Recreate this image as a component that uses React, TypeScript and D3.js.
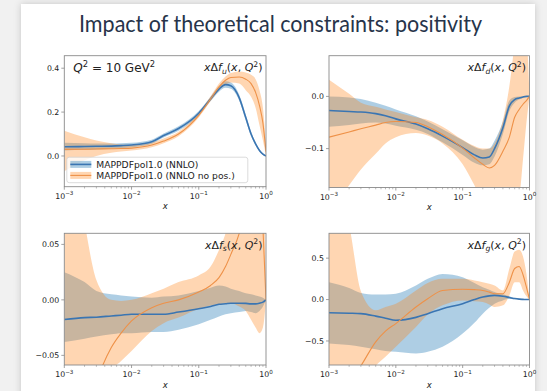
import React from 'react';
import * as d3 from 'd3';

const W = 547;
const H = 391;

// Shared momentum-fraction grid
const xGrid = [1e-3, 2e-3, 3e-3, 5e-3, 7e-3, 1e-2, 2e-2, 3e-2, 5e-2, 0.1, 0.15, 0.2, 0.25, 0.3, 0.4, 0.5, 0.6, 0.7, 0.8, 0.9, 1.0];

// x Δf_u
const uPol = [0.042, 0.043, 0.044, 0.045, 0.047, 0.05, 0.065, 0.093, 0.125, 0.195, 0.26, 0.305, 0.325, 0.32, 0.265, 0.175, 0.1, 0.055, 0.025, 0.008, 0.0];
const uPolLo = [0.025, 0.028, 0.03, 0.033, 0.035, 0.04, 0.056, 0.084, 0.115, 0.185, 0.25, 0.293, 0.311, 0.306, 0.252, 0.162, 0.09, 0.048, 0.02, 0.005, 0.0];
const uPolHi = [0.06, 0.058, 0.057, 0.057, 0.058, 0.06, 0.074, 0.102, 0.135, 0.205, 0.27, 0.318, 0.34, 0.335, 0.279, 0.188, 0.11, 0.062, 0.03, 0.011, 0.0];
const uNoPos = [0.03, 0.031, 0.032, 0.033, 0.034, 0.036, 0.05, 0.068, 0.1, 0.185, 0.26, 0.315, 0.345, 0.358, 0.36, 0.35, 0.33, 0.29, 0.23, 0.15, 0.02];
const uNoPosLo = [-0.07, -0.02, 0.0, 0.015, 0.02, 0.025, 0.04, 0.058, 0.09, 0.175, 0.25, 0.3, 0.325, 0.335, 0.33, 0.3, 0.27, 0.22, 0.14, 0.07, 0.0];
const uNoPosHi = [0.115, 0.085, 0.07, 0.058, 0.052, 0.05, 0.062, 0.08, 0.11, 0.198, 0.272, 0.33, 0.362, 0.378, 0.385, 0.38, 0.37, 0.35, 0.3, 0.22, 0.05];

// x Δf_d
const dPol = [-0.027, -0.029, -0.03, -0.033, -0.037, -0.043, -0.053, -0.062, -0.076, -0.098, -0.112, -0.118, -0.116, -0.1, -0.06, -0.018, -0.006, -0.003, -0.001, 0.0, 0.0];
const dPolLo = [-0.058, -0.055, -0.052, -0.05, -0.052, -0.056, -0.064, -0.072, -0.088, -0.112, -0.127, -0.132, -0.13, -0.115, -0.072, -0.028, -0.012, -0.006, -0.003, -0.001, 0.0];
const dPolHi = [0.0, -0.002, -0.005, -0.012, -0.018, -0.025, -0.038, -0.048, -0.063, -0.084, -0.097, -0.102, -0.1, -0.085, -0.048, -0.008, -0.001, 0.0, 0.0, 0.0, 0.0];
const dNoPos = [-0.078, -0.068, -0.062, -0.055, -0.05, -0.048, -0.05, -0.058, -0.073, -0.099, -0.118, -0.13, -0.137, -0.132, -0.105, -0.078, -0.04, -0.025, -0.015, -0.008, 0.0];
const dNoPosLo = [-0.22, -0.17, -0.14, -0.11, -0.09, -0.078, -0.07, -0.075, -0.09, -0.13, -0.17, -0.2, -0.21, -0.21, -0.21, -0.21, -0.2, -0.19, -0.12, -0.05, 0.0];
const dNoPosHi = [0.032, 0.005, -0.012, -0.02, -0.025, -0.03, -0.04, -0.045, -0.058, -0.083, -0.095, -0.1, -0.1, -0.09, -0.045, 0.02, 0.1, 0.15, 0.15, 0.12, 0.0];

// x Δf_s
const sPol = [-0.0177, -0.016, -0.0156, -0.0145, -0.0138, -0.013, -0.013, -0.013, -0.011, -0.008, -0.006, -0.004, -0.0035, -0.003, -0.003, -0.0032, -0.0036, -0.0036, -0.003, -0.002, 0.0];
const sPolLo = [-0.038, -0.035, -0.033, -0.031, -0.03, -0.03, -0.029, -0.029, -0.027, -0.022, -0.018, -0.015, -0.013, -0.012, -0.011, -0.01, -0.011, -0.012, -0.01, -0.006, 0.0];
const sPolHi = [0.025, 0.016, 0.008, 0.005, 0.004, 0.003, 0.002, 0.003, 0.004, 0.008, 0.011, 0.013, 0.012, 0.01, 0.008, 0.006, 0.005, 0.004, 0.003, 0.002, 0.0];
const sNoPos = [-0.25, -0.12, -0.075, -0.043, -0.03, -0.019, -0.007, -0.003, 0.0, 0.007, 0.013, 0.02, 0.03, 0.041, 0.06, 0.085, 0.11, 0.13, 0.13, 0.065, 0.0];
const sNoPosLo = [-0.35, -0.2, -0.12, -0.065, -0.055, -0.046, -0.028, -0.021, -0.016, -0.008, -0.005, -0.004, -0.003, -0.003, -0.006, -0.01, -0.018, -0.025, -0.03, -0.025, 0.0];
const sNoPosHi = [0.2, 0.07, 0.018, 0.0, -0.001, 0.0, 0.006, 0.01, 0.016, 0.022, 0.03, 0.045, 0.06, 0.08, 0.11, 0.13, 0.15, 0.16, 0.16, 0.14, 0.0];

// x Δf_g
const gPol = [-0.16, -0.165, -0.17, -0.2, -0.225, -0.25, -0.215, -0.17, -0.11, -0.05, 0.0, 0.03, 0.045, 0.05, 0.04, 0.025, 0.012, 0.005, 0.002, 0.0, 0.0];
const gPolLo = [-0.53, -0.55, -0.57, -0.6, -0.62, -0.63, -0.65, -0.63, -0.57, -0.41, -0.28, -0.17, -0.1, -0.05, -0.01, 0.01, 0.003, 0.0, 0.0, 0.0, 0.0];
const gPolHi = [0.21, 0.14, 0.08, 0.06, 0.06, 0.07, 0.17, 0.25, 0.31, 0.27, 0.2, 0.15, 0.12, 0.09, 0.065, 0.04, 0.02, 0.01, 0.004, 0.001, 0.0];
const gNoPos = [-1.5, -1.0, -0.8, -0.51, -0.38, -0.29, -0.09, 0.01, 0.11, 0.125, 0.12, 0.11, 0.09, 0.07, 0.07, 0.21, 0.375, 0.4, 0.3, 0.15, 0.0];
const gNoPosLo = [-2.0, -1.5, -1.1, -0.8, -0.69, -0.57, -0.33, -0.18, -0.07, -0.01, -0.02, -0.03, -0.06, -0.09, -0.07, 0.05, 0.21, 0.21, 0.11, 0.04, 0.0];
const gNoPosHi = [1.5, 0.9, 0.1, -0.13, -0.09, -0.05, 0.11, 0.2, 0.25, 0.25, 0.23, 0.21, 0.19, 0.17, 0.11, 0.375, 0.58, 0.6, 0.52, 0.31, 0.0];

const seriesNames = ['MAPPDFpol1.0 (NNLO)', 'MAPPDFpol1.0 (NNLO no pos.)'];
const titleText = 'Impact of theoretical constraints: positivity';
const scaleText = ['Q', '2', ' = 10 GeV', '2'];

const xTickValues = [1e-3, 1e-2, 1e-1, 1];
const xTickExps = ['\u22123', '\u22122', '\u22121', '0'];
const uTicks = [0, 0.2, 0.4];
const dTicks = [-0.1, 0.0];
const sTicks = [-0.05, 0.0, 0.05];
const gTicks = [-0.5, 0.0, 0.5];

const BLUE_BAND = '#1f77b4';
const ORANGE_BAND = '#ff7f0e';
const BLUE_LINE = '#3a75b2';
const ORANGE_LINE = '#ee9148';
const FRAME = '#8a8a8a';
const TEXT = '#222';

type Series = { c: number[]; lo: number[]; hi: number[] };
type PanelSpec = {
  id: string;
  sub: string;
  left: number;
  right: number;
  top: number;
  bottom: number;
  yDomain: [number, number];
  yTicks: number[];
  yFmt: string;
  pol: Series;
  noPos: Series;
  legend?: boolean;
  scaleLabel?: boolean;
};

const panels: PanelSpec[] = [
  { id: 'u', sub: 'u', left: 64.3, right: 266, top: 55.7, bottom: 186.7, yDomain: [-0.14, 0.457], yTicks: uTicks, yFmt: '.1f',
    pol: { c: uPol, lo: uPolLo, hi: uPolHi }, noPos: { c: uNoPos, lo: uNoPosLo, hi: uNoPosHi }, legend: true, scaleLabel: true },
  { id: 'd', sub: 'd', left: 329, right: 529.5, top: 55.7, bottom: 187.5, yDomain: [-0.1745, 0.078], yTicks: dTicks, yFmt: '.1f',
    pol: { c: dPol, lo: dPolLo, hi: dPolHi }, noPos: { c: dNoPos, lo: dNoPosLo, hi: dNoPosHi } },
  { id: 's', sub: 's', left: 64.3, right: 266, top: 233.3, bottom: 365, yDomain: [-0.0587, 0.06], yTicks: sTicks, yFmt: '.2f',
    pol: { c: sPol, lo: sPolLo, hi: sPolHi }, noPos: { c: sNoPos, lo: sNoPosLo, hi: sNoPosHi } },
  { id: 'g', sub: 'g', left: 329, right: 529.5, top: 233.3, bottom: 365, yDomain: [-0.79, 0.8], yTicks: gTicks, yFmt: '.1f',
    pol: { c: gPol, lo: gPolLo, hi: gPolHi }, noPos: { c: gNoPos, lo: gNoPosLo, hi: gNoPosHi } },
];

const MPL = "'DejaVu Sans', sans-serif";

function fmtTick(v: number, f: string) {
  return d3.format(f)(v).replace('-', '\u2212');
}

function Panel({ spec }: { spec: PanelSpec }) {
  const x = d3.scaleLog().domain([1e-3, 1]).range([spec.left, spec.right]);
  const y = d3.scaleLinear().domain(spec.yDomain).range([spec.bottom, spec.top]);
  const idx = xGrid.map((_, i) => i);

  const band = (s: Series) =>
    d3.area<number>()
      .x((i) => x(xGrid[i]))
      .y0((i) => y(s.lo[i]))
      .y1((i) => y(s.hi[i]))
      .curve(d3.curveMonotoneX)(idx) || '';
  const line = (s: Series) =>
    d3.line<number>()
      .x((i) => x(xGrid[i]))
      .y((i) => y(s.c[i]))
      .curve(d3.curveMonotoneX)(idx) || '';

  const minor: number[] = [];
  for (let k = -3; k < 0; k++) for (let m = 2; m <= 9; m++) minor.push(m * Math.pow(10, k));

  const clipId = `clip-${spec.id}`;
  const pw = spec.right - spec.left;
  const ph = spec.bottom - spec.top;

  return (
    <g>
      <defs>
        <clipPath id={clipId}>
          <rect x={spec.left} y={spec.top} width={pw} height={ph} />
        </clipPath>
      </defs>
      <g clipPath={`url(#${clipId})`}>
        <path d={band(spec.pol)} fill={BLUE_BAND} fillOpacity={0.36} />
        <path d={band(spec.noPos)} fill={ORANGE_BAND} fillOpacity={0.32} />
        <path d={line(spec.pol)} fill="none" stroke={BLUE_LINE} strokeWidth={1.6} />
        <path d={line(spec.noPos)} fill="none" stroke={ORANGE_LINE} strokeWidth={1.1} />
      </g>
      <rect x={spec.left} y={spec.top} width={pw} height={ph} fill="none" stroke={FRAME} strokeWidth={0.9} />

      {/* y ticks */}
      {spec.yTicks.map((t) => (
        <g key={`y${t}`}>
          <line x1={spec.left - 3} x2={spec.left} y1={y(t)} y2={y(t)} stroke={FRAME} strokeWidth={0.8} />
          <text x={spec.left - 5} y={y(t) + 2.8} textAnchor="end" fontFamily={MPL} fontSize={7.8} fill={TEXT}>
            {fmtTick(t, spec.yFmt)}
          </text>
        </g>
      ))}

      {/* x ticks */}
      {minor.map((t) => (
        <line key={`m${t}`} x1={x(t)} x2={x(t)} y1={spec.bottom} y2={spec.bottom + 1.8} stroke={FRAME} strokeWidth={0.6} />
      ))}
      {xTickValues.map((t, i) => (
        <g key={`x${t}`}>
          <line x1={x(t)} x2={x(t)} y1={spec.bottom} y2={spec.bottom + 3} stroke={FRAME} strokeWidth={0.8} />
          <text x={x(t)} y={spec.bottom + 12} textAnchor="middle" fontFamily={MPL} fontSize={7.8} fill={TEXT}>
            10<tspan dy={-3.5} fontSize={5.6}>{xTickExps[i]}</tspan>
          </text>
        </g>
      ))}
      <text x={(spec.left + spec.right) / 2} y={spec.bottom + 22.5} textAnchor="middle" fontFamily={MPL} fontStyle="italic" fontSize={8.5} fill={TEXT}>
        x
      </text>

      {/* PDF label */}
      <text x={spec.right - 3.5} y={spec.top + 15.5} textAnchor="end" fontFamily={MPL} fontSize={11} fill={TEXT}>
        <tspan fontStyle="italic">x</tspan>
        <tspan>Δ</tspan>
        <tspan fontStyle="italic">f</tspan>
        <tspan fontStyle="italic" fontSize={7.7} dy={2.5}>{spec.sub}</tspan>
        <tspan dy={-2.5}>(</tspan>
        <tspan fontStyle="italic">x</tspan>
        <tspan>, </tspan>
        <tspan fontStyle="italic">Q</tspan>
        <tspan fontSize={7.7} dy={-4.5}>2</tspan>
        <tspan dy={4.5}>)</tspan>
      </text>

      {spec.scaleLabel && (
        <text x={spec.left + 9} y={spec.top + 16} fontFamily={MPL} fontSize={12} fill={TEXT}>
          <tspan fontStyle="italic">{scaleText[0]}</tspan>
          <tspan fontSize={8.4} dy={-5}>{scaleText[1]}</tspan>
          <tspan dy={5}>{scaleText[2]}</tspan>
          <tspan fontSize={8.4} dy={-5}>{scaleText[3]}</tspan>
        </text>
      )}

      {spec.legend && (
        <g>
          <rect x={spec.left + 2.5} y={spec.bottom - 29.5} width={181} height={25.5} rx={2.5}
            fill="#fff" fillOpacity={0.8} stroke="#d2d2d2" strokeWidth={0.8} />
          {seriesNames.map((name, i) => {
            const cy = spec.bottom - 22.3 + i * 11;
            const band = i === 0 ? BLUE_BAND : ORANGE_BAND;
            const ln = i === 0 ? BLUE_LINE : ORANGE_LINE;
            return (
              <g key={name}>
                <rect x={spec.left + 6} y={cy - 3.5} width={21} height={7} fill={band} fillOpacity={i === 0 ? 0.36 : 0.32} />
                <line x1={spec.left + 6} x2={spec.left + 27} y1={cy} y2={cy} stroke={ln} strokeWidth={i === 0 ? 1.6 : 1.1} />
                <text x={spec.left + 32} y={cy + 3.3} fontFamily={MPL} fontSize={9.2} fill={TEXT}>{name}</text>
              </g>
            );
          })}
        </g>
      )}
    </g>
  );
}

export default function App() {
  return (
    <svg width={W} height={H} viewBox={`0 0 ${W} ${H}`}
      style={{ position: 'absolute', left: 0, top: 0, display: 'block' }}>
      <defs>
        <filter id="cardShadow" x="-10%" y="-10%" width="120%" height="120%">
          <feDropShadow dx={0} dy={0} stdDeviation={3.5} floodColor="#000" floodOpacity={0.18} />
        </filter>
      </defs>
      <rect x={0} y={0} width={W} height={H} fill="#f1f1f1" />
      <rect x={21} y={4} width={514} height={400} fill="#fff" filter="url(#cardShadow)" />
      <text x={280.5} y={31.5} textAnchor="middle" fontFamily="Lato, 'Open Sans', sans-serif" fontSize={24}
        fill="#27344a" textLength={403} lengthAdjust="spacingAndGlyphs">
        {titleText}
      </text>
      {panels.map((p) => (
        <Panel key={p.id} spec={p} />
      ))}
    </svg>
  );
}
